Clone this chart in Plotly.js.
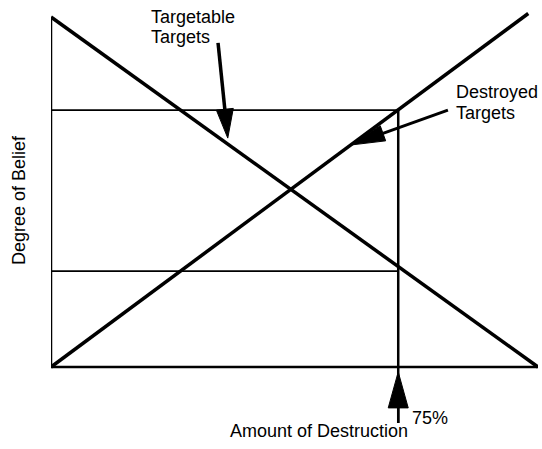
<!DOCTYPE html>
<html>
<head>
<meta charset="utf-8">
<script src="https://cdn.plot.ly/plotly-3.0.1.min.js"></script>
<style>html,body{margin:0;padding:0;background:#fff;}#chart{width:542px;height:449px;}</style>
</head>
<body>
<div id="chart"></div>
<script>
// ---- data (axis units: amount of destruction 0-100, degree of belief 0-100) ----
var targetableX = [0, 100];
var targetableY = [100, 0];
var destroyedX = [0, 98];
var destroyedY = [0, 101];
var beliefLevels = [73.4, 27.4];       // horizontal reference lines
var cutoffX = 71.3;                      // vertical cutoff (labelled 75%)
var cutoffLabel = "75%";
var cutoffBottom = -16;
var axisX = [0, 100];
var axisY = [0, 100];
// label arrows: [tailX, tailY, tipX, tipY]
var arrowTargetable = [34.3, 92.6, 36.3, 65.4];
var arrowDestroyed = [81.5, 73.4, 61.4, 63.4];
var arrowCutoff = [71.3, -16, 71.3, -1.4];

// ---- layout geometry ----
var W = 542, H = 449;
var M = {l: 51, r: 4, t: 10, b: 12};
var xRange = [0, 100], yRange = [-20, 102];
var pxPerX = (W - M.l - M.r) / (xRange[1] - xRange[0]);
var pxPerY = (H - M.t - M.b) / (yRange[1] - yRange[0]);

function line(x, y, w) {
  return {type: 'scatter', mode: 'lines', x: x, y: y, line: {color: '#000', width: w}, hoverinfo: 'skip', cliponaxis: false};
}
function arrowTraces(a, headLen, halfW, shaftW) {
  var tx = a[0], ty = a[1], hx = a[2], hy = a[3];
  var dxp = (hx - tx) * pxPerX, dyp = (hy - ty) * pxPerY;
  var L = Math.sqrt(dxp * dxp + dyp * dyp);
  var ux = dxp / L, uy = dyp / L;
  var bx = hx * pxPerX - ux * headLen, by = hy * pxPerY - uy * headLen;
  var p1 = [(bx - uy * halfW) / pxPerX, (by + ux * halfW) / pxPerY];
  var p2 = [(bx + uy * halfW) / pxPerX, (by - ux * halfW) / pxPerY];
  var shaft = line([tx, bx / pxPerX], [ty, by / pxPerY], shaftW);
  var head = {type: 'scatter', mode: 'lines', x: [hx, p1[0], p2[0], hx], y: [hy, p1[1], p2[1], hy],
    fill: 'toself', fillcolor: '#000', line: {color: '#000', width: 1}, hoverinfo: 'skip'};
  return [shaft, head];
}

var traces = [];
traces.push(line([axisX[0], axisX[0]], [axisY[0], axisY[1]], 2.5));
traces.push(line([axisX[0], axisX[1]], [axisY[0], axisY[0]], 2.5));
beliefLevels.forEach(function (lv) { traces.push(line([0, cutoffX], [lv, lv], 1.8)); });
traces.push(line([cutoffX, cutoffX], [beliefLevels[0], cutoffBottom], 2.5));
traces.push(line(targetableX, targetableY, 3.5));
traces.push(line(destroyedX, destroyedY, 3.5));
traces = traces.concat(arrowTraces(arrowTargetable, 29, 8.5, 3.5));
traces = traces.concat(arrowTraces(arrowDestroyed, 35, 8, 3));
traces = traces.concat(arrowTraces(arrowCutoff, 36, 10, 2.5));

var font = {family: '"Liberation Sans", Arial, Helvetica, sans-serif', size: 18, color: '#000'};
function txt(text, x, y, xanchor) {
  return {text: text, x: x, y: y, xref: 'x', yref: 'y', xanchor: xanchor, yanchor: 'middle', showarrow: false, font: font};
}
function px2x(p) { return (p - M.l) / pxPerX; }
function px2y(p) { return (367 - p) / pxPerY; }
var annotations = [
  txt('Targetable', px2x(149), px2y(17), 'left'),
  txt('Targets', px2x(149), px2y(37), 'left'),
  txt('Destroyed', px2x(454), px2y(92), 'left'),
  txt('Targets', px2x(454), px2y(113), 'left'),
  txt(cutoffLabel, px2x(410), px2y(418), 'left'),
  txt('Amount of Destruction', px2x(318.5), px2y(431), 'center'),
  {text: 'Degree of Belief', xref: 'paper', yref: 'y', x: (19 - M.l) / (W - M.l - M.r), y: px2y(200),
   xanchor: 'center', yanchor: 'middle', textangle: -90, showarrow: false, font: font}
];

var layout = {
  width: W, height: H, margin: M, showlegend: false, hovermode: false,
  paper_bgcolor: '#fff', plot_bgcolor: '#fff',
  xaxis: {range: xRange, visible: false, fixedrange: true},
  yaxis: {range: yRange, visible: false, fixedrange: true},
  annotations: annotations
};
Plotly.newPlot('chart', traces, layout, {staticPlot: true, displayModeBar: false});
</script>
</body>
</html>
